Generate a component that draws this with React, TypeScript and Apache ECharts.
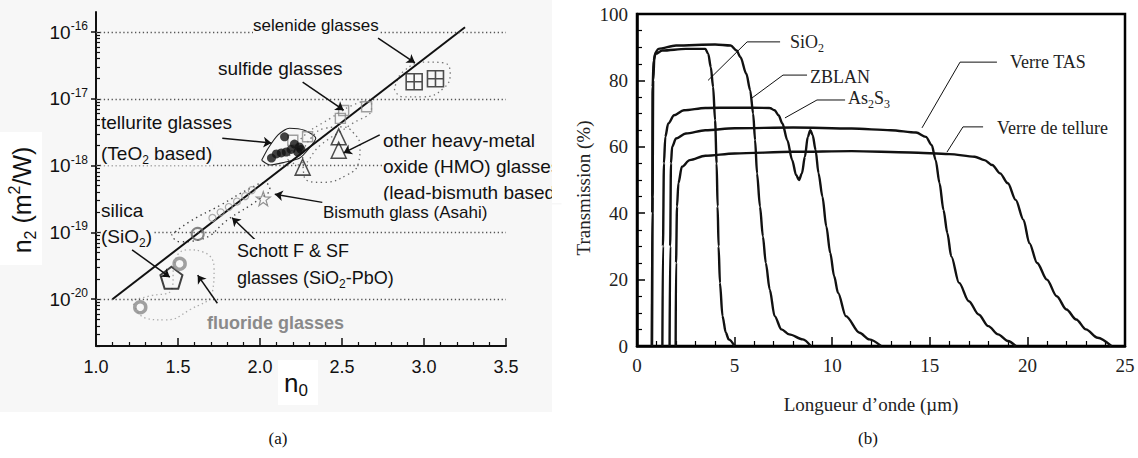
import React, { useEffect, useRef } from 'react';
import * as echarts from 'echarts';

const SANS = '"Liberation Sans", Arial, Helvetica, sans-serif';
const SERIF = '"Liberation Serif", "Times New Roman", Times, serif';

// ================= Panel (a): n2 (m^2/W) vs n0 =================
const n2DecadeExp = [-20, -19, -18, -17, -16];

// [n0, n2]
const trendLine = [[1.1, 1.0e-20], [3.25, 1.18e-16]];
const selenide = [[2.94, 1.8e-17], [3.07, 2.0e-17]];
const sulfide = [[2.2, 2.4e-18], [2.29, 2.7e-18], [2.49, 5.1e-18], [2.51, 6.7e-18], [2.65, 7.6e-18]];
const tellurite = [
  [2.07, 1.3e-18], [2.1, 1.5e-18], [2.13, 1.55e-18], [2.15, 2.7e-18], [2.16, 1.6e-18],
  [2.19, 1.75e-18], [2.21, 2.1e-18], [2.23, 1.6e-18], [2.24, 1.9e-18], [2.25, 1.75e-18],
];
const hmo = [[2.48, 2.7e-18], [2.48, 1.7e-18], [2.26, 9.5e-19]];
const bismuthAsahi = [[2.02, 3.2e-19]];
const schottSmall = [[1.71, 1.65e-19], [1.76, 2.0e-19], [1.81, 2.4e-19], [1.86, 2.9e-19], [1.91, 3.5e-19], [1.95, 4.3e-19]];
const schottLarge = [[1.62, 9.5e-20]];
const silica = [[1.46, 2.1e-20]];
const fluoride = [[1.51, 3.4e-20], [1.27, 7.6e-21]];

// outlines, [n0, log10(n2)]
const selenideHull = [[2.82, -16.87], [2.87, -16.6], [3.02, -16.45], [3.12, -16.46], [3.16, -16.61], [3.12, -16.84], [2.99, -16.97], [2.87, -16.97], [2.82, -16.87]];
const telluriteHull = [[2.01, -17.92], [2.05, -17.74], [2.11, -17.54], [2.18, -17.44], [2.27, -17.47], [2.34, -17.59], [2.29, -17.77], [2.24, -17.89], [2.15, -17.95], [2.06, -17.99], [2.01, -17.92]];
const schottHull = [[1.46, -19.04], [1.57, -18.84], [1.76, -18.59], [1.94, -18.34], [2.03, -18.26], [2.06, -18.34], [1.99, -18.51], [1.82, -18.78], [1.63, -19.11], [1.51, -19.14], [1.46, -19.04]];
const sulfideHull = [[2.17, -17.92], [2.24, -17.62], [2.43, -17.29], [2.61, -17.05], [2.68, -17.02], [2.68, -17.14], [2.55, -17.39], [2.37, -17.69], [2.24, -17.99], [2.17, -17.92]];
const hmoHull = [[2.26, -17.8], [2.27, -18.17], [2.38, -18.25], [2.53, -18.14], [2.6, -17.96], [2.61, -17.72], [2.57, -17.51], [2.5, -17.42], [2.4, -17.44], [2.31, -17.59], [2.26, -17.8]];
const fluorideHull = [[1.22, -20.01], [1.3, -20.28], [1.42, -20.31], [1.57, -20.16], [1.71, -19.89], [1.72, -19.53], [1.65, -19.29], [1.56, -19.26], [1.48, -19.44], [1.46, -19.86], [1.33, -19.95], [1.22, -20.01]];

// arrows [n0 start, log start, n0 end, log end]
const arrowsA = [
  [2.72, -16.09, 2.945, -16.46],
  [2.26, -16.75, 2.51, -17.17],
  [1.77, -17.59, 2.07, -17.66],
  [2.73, -17.54, 2.51, -17.81],
  [2.38, -18.55, 2.09, -18.43],
  [1.97, -19.11, 1.83, -18.78],
  [1.22, -19.26, 1.45, -19.67],
  [1.74, -20.06, 1.62, -19.64],
];

// ================= Panel (b): Transmission (%) vs wavelength (um) =================
const sio2 = [[0.76, 0], [0.78, 40], [0.8, 78], [0.85, 86], [0.95, 88], [1.3, 89], [2.5, 89.5], [3.5, 89.5], [3.65, 88], [3.78, 84], [3.9, 78], [4.0, 68], [4.08, 55], [4.13, 42], [4.18, 30], [4.25, 19], [4.38, 9], [4.55, 4], [4.7, 2], [5.0, 0]];
const zblan = [[0.77, 0], [0.8, 45], [0.83, 80], [0.9, 88], [1.1, 89.5], [2, 90.5], [4, 90.8], [4.8, 90.5], [5.1, 89], [5.3, 87], [5.6, 82], [5.8, 77], [5.95, 70], [6.05, 62], [6.15, 52], [6.3, 42], [6.45, 33], [6.6, 25], [6.8, 17], [7.05, 9], [7.4, 5], [7.8, 3.5], [8.5, 2], [8.9, 0]];
const as2s3 = [[1.3, 0], [1.33, 30], [1.38, 55], [1.45, 63], [1.6, 67], [1.9, 69.5], [2.4, 71], [3.5, 71.7], [5, 71.8], [6.8, 71.7], [7.05, 71], [7.25, 69.5], [7.45, 67], [7.7, 62], [7.95, 56], [8.15, 51.5], [8.3, 50], [8.45, 52], [8.6, 57], [8.75, 63], [8.88, 65], [9.0, 63.5], [9.15, 59], [9.3, 52], [9.5, 45], [9.7, 36], [9.9, 28], [10.1, 21], [10.3, 16], [10.7, 9], [11.4, 4], [11.9, 2], [12.5, 0]];
const verreTAS = [[1.67, 0], [1.7, 30], [1.74, 55], [1.8, 60], [2.0, 62.5], [2.5, 64], [3.5, 65], [5, 65.6], [8, 65.8], [11, 65.5], [13, 65], [14.3, 64.3], [14.8, 63], [15.1, 60.5], [15.3, 56], [15.5, 49], [15.7, 41], [15.9, 34], [16.1, 27], [16.5, 19], [17, 13.5], [17.5, 9.5], [18, 6], [18.5, 3.5], [19, 1.5], [19.4, 0]];
const verreTellure = [[1.98, 0], [2.0, 25], [2.05, 42], [2.12, 49], [2.3, 54], [2.7, 56], [3.5, 57.3], [5, 58], [8, 58.5], [11, 58.7], [14, 58.3], [16, 57.8], [17.3, 57], [17.8, 56], [18.2, 54.5], [18.6, 52], [19, 49], [19.4, 44], [19.8, 38], [20.1, 31], [20.5, 25], [21, 20], [21.5, 15], [22, 11], [22.5, 8], [23, 5], [23.6, 2.5], [24.3, 0]];

// leader lines [wavelength, transmission]
const leadersB = [
  [[3.64, 80], [5.64, 91.6], [7.33, 91.6]],
  [[5.89, 74.7], [7.48, 81.6], [8.71, 81.6]],
  [[7.58, 68.7], [9.22, 74.1], [10.66, 74.1]],
  [[14.6, 65.7], [16.55, 85.5], [18.44, 85.5]],
  [[15.88, 58.4], [16.7, 66], [17.73, 66]],
];

const toLog = (pts: number[][]) => pts.map((p) => [p[0], Math.log10(p[1])]);

const minorLog: number[] = [];
for (let d = -21; d <= -16; d++) {
  for (let k = 2; k <= 9; k++) {
    const v = d + Math.log10(k);
    if (v > -20.7 && v < -15.7) minorLog.push(v);
  }
}

const BG_A = '#f7f7f7';

function txt(x: number, y: number, text: string, o: any = {}) {
  const size = o.size ?? 17;
  const fam = o.family ?? SANS;
  const fill = o.color ?? '#111';
  const sub = o.sub ?? Math.round(size * 0.65);
  return {
    type: 'text',
    x,
    y,
    z: 50,
    silent: true,
    rotation: o.rotation ?? 0,
    style: {
      text,
      fontFamily: fam,
      fontSize: size,
      fontWeight: o.weight ?? 'normal',
      fill,
      align: o.align ?? 'left',
      verticalAlign: 'middle',
      lineHeight: o.lh ?? size + 6,
      backgroundColor: o.bg,
      rich: {
        sub: { fontSize: sub, lineHeight: sub, verticalAlign: 'bottom', fontFamily: fam, fill, fontWeight: o.weight ?? 'normal' },
        sup: { fontSize: sub, lineHeight: sub, verticalAlign: 'top', fontFamily: fam, fill, fontWeight: o.weight ?? 'normal' },
      },
    },
  };
}

function scatterA(data: number[][], symbol: string, size: any, itemStyle: any) {
  return { type: 'scatter', xAxisIndex: 0, yAxisIndex: 0, data: toLog(data), symbol, symbolSize: size, itemStyle, z: 5, silent: true };
}

function hullA(data: number[][], color: string, width: number, type: any, smooth: number) {
  return { type: 'line', xAxisIndex: 0, yAxisIndex: 0, data, symbol: 'none', smooth, lineStyle: { color, width, type }, z: 3, silent: true };
}

const PENTAGON = 'path://M11 0 L21.5 7.6 L17.5 20 L4.5 20 L0.5 7.6 Z';
const STAR = 'path://M7 0 L8.65 4.73 L13.66 4.84 L9.66 7.87 L11.11 12.66 L7 9.8 L2.89 12.66 L4.34 7.87 L0.34 4.84 L5.35 4.73 Z';
const BOXCROSS = 'path://M0 0 H16 V16 H0 Z M8 0 V16 M0 8 H16';

function buildOption() {
  const bLine = (data: number[][]) => ({
    type: 'line', xAxisIndex: 1, yAxisIndex: 2, data, symbol: 'none', smooth: 0.3, smoothMonotone: 'x',
    lineStyle: { color: '#111', width: 2.4 }, z: 4, silent: true,
  });
  return {
    animation: false,
    backgroundColor: '#ffffff',
    grid: [
      { left: 96, top: 12, width: 410, height: 334 },
      { left: 637, top: 14, width: 488, height: 332, show: true, borderColor: '#000', borderWidth: 2.5, backgroundColor: 'transparent' },
    ],
    xAxis: [
      {
        gridIndex: 0, type: 'value', min: 1, max: 3.5, interval: 0.5,
        axisLine: { lineStyle: { color: '#111', width: 2 } },
        axisTick: { inside: true, length: 8, lineStyle: { color: '#111', width: 1.5 } },
        minorTick: { show: true, splitNumber: 5, length: 4, lineStyle: { color: '#111', width: 1.2 } },
        axisLabel: { formatter: (v: number) => v.toFixed(1), fontFamily: SANS, fontSize: 18, color: '#111', margin: 12 },
        splitLine: { show: false },
      },
      {
        gridIndex: 1, type: 'value', min: 0, max: 25, interval: 5,
        axisLine: { lineStyle: { color: '#000', width: 2.5 } },
        axisTick: { inside: true, length: 9, lineStyle: { color: '#000', width: 1.5 } },
        minorTick: { show: true, splitNumber: 5, length: 5, lineStyle: { color: '#000', width: 1.2 } },
        axisLabel: { fontFamily: SERIF, fontSize: 19, color: '#222', margin: 10 },
        splitLine: { show: false },
      },
    ],
    yAxis: [
      {
        gridIndex: 0, type: 'value', min: -20.7, max: -15.7, position: 'left',
        axisLine: { show: true, lineStyle: { color: '#111', width: 2 } },
        axisTick: { show: true, inside: false, length: 5, customValues: n2DecadeExp, lineStyle: { color: '#111', width: 1.5 } },
        axisLabel: {
          customValues: n2DecadeExp,
          formatter: (v: number) => `10{sup|${Math.round(v)}}`,
          fontFamily: SANS, fontSize: 19, color: '#111', margin: 8, lineHeight: 24,
          rich: { sup: { fontFamily: SANS, fontSize: 12, lineHeight: 12, verticalAlign: 'top', color: '#111' } },
        },
        splitLine: { show: false },
      },
      {
        gridIndex: 0, type: 'value', min: -20.7, max: -15.7, position: 'left', offset: 0,
        axisLine: { show: false },
        axisTick: { show: true, inside: true, length: 4, customValues: [...n2DecadeExp, ...minorLog], lineStyle: { color: '#111', width: 1.2 } },
        axisLabel: { show: false },
        splitLine: { show: false },
      },
      {
        gridIndex: 1, type: 'value', min: 0, max: 100, interval: 20,
        axisLine: { lineStyle: { color: '#000', width: 2.5 } },
        axisTick: { inside: true, length: 8, lineStyle: { color: '#000', width: 1.5 } },
        minorTick: { show: true, splitNumber: 4, length: 5, lineStyle: { color: '#000', width: 1.2 } },
        axisLabel: { fontFamily: SERIF, fontSize: 19, color: '#222', margin: 9 },
        splitLine: { show: false },
      },
    ],
    series: [
      {
        type: 'line', xAxisIndex: 0, yAxisIndex: 0, data: toLog(trendLine), symbol: 'none',
        lineStyle: { color: '#111', width: 2 }, z: 4, silent: true,
        markLine: {
          silent: true, symbol: ['none', 'none'], label: { show: false },
          lineStyle: { type: [1.3, 2.6], color: '#555', width: 1.3 },
          data: n2DecadeExp.map((e) => ({ yAxis: e })),
        },
      },
      hullA(selenideHull, '#777', 1.3, [1.4, 3.4], 0.5),
      hullA(schottHull, '#444', 1.4, [1.4, 3.6], 0.5),
      hullA(sulfideHull, '#777', 1.3, [1.4, 3.6], 0.5),
      hullA(hmoHull, '#666', 1.3, [1.4, 3.4], 0.5),
      hullA(fluorideHull, '#aaa', 1.3, [1.4, 3.0], 0.5),
      hullA(telluriteHull, '#222', 1.1, 'solid', 0.25),
      scatterA(selenide, BOXCROSS, 16, { color: 'transparent', borderColor: '#222', borderWidth: 1.6 }),
      scatterA(sulfide, 'rect', 10, { color: 'transparent', borderColor: '#888', borderWidth: 1.4 }),
      scatterA(hmo, 'triangle', [15, 16], { color: 'transparent', borderColor: '#222', borderWidth: 1.5 }),
      scatterA(bismuthAsahi, STAR, 14, { color: 'transparent', borderColor: '#777', borderWidth: 1.2 }),
      scatterA(schottSmall, 'circle', 7, { color: 'transparent', borderColor: '#999', borderWidth: 1.2 }),
      scatterA(schottLarge, 'circle', 12, { color: 'transparent', borderColor: '#666', borderWidth: 2 }),
      scatterA(silica, PENTAGON, 22, { color: 'transparent', borderColor: '#111', borderWidth: 2 }),
      scatterA(fluoride, 'circle', 11, { color: 'transparent', borderColor: '#8a8a8a', borderWidth: 3.5 }),
      scatterA(tellurite, 'circle', 9, { color: '#111', borderColor: '#111', borderWidth: 0 }),
      {
        type: 'lines', coordinateSystem: 'cartesian2d', xAxisIndex: 0, yAxisIndex: 0, silent: true, z: 6,
        symbol: ['none', 'arrow'], symbolSize: 8,
        lineStyle: { color: '#111', width: 1.5, opacity: 1, curveness: 0 },
        data: arrowsA.map((a) => ({ coords: [[a[0], a[1]], [a[2], a[3]]] })),
      },
      // panel (b)
      bLine(sio2),
      bLine(zblan),
      bLine(as2s3),
      bLine(verreTAS),
      bLine(verreTellure),
      {
        type: 'lines', coordinateSystem: 'cartesian2d', xAxisIndex: 1, yAxisIndex: 2, polyline: true, silent: true, z: 6,
        lineStyle: { color: '#111', width: 1, opacity: 1 },
        data: leadersB.map((c) => ({ coords: c })),
      },
    ],
    graphic: [
      { type: 'rect', z: -5, silent: true, shape: { x: 0, y: 0, width: 552, height: 412 }, style: { fill: BG_A } },
      { type: 'rect', z: -4, silent: true, shape: { x: 0, y: 132, width: 42, height: 133 }, style: { fill: '#fff' } },
      { type: 'rect', z: -4, silent: true, shape: { x: 278, y: 360, width: 40, height: 45 }, style: { fill: '#fff' } },
      // panel (a) annotations
      txt(253, 25, 'selenide glasses', { bg: BG_A, size: 17 }),
      txt(218, 68, 'sulfide glasses', { bg: BG_A, size: 19 }),
      txt(101, 122, 'tellurite glasses', { bg: BG_A, size: 19 }),
      txt(101, 153, '(TeO{sub|2} based)', { bg: BG_A, size: 19 }),
      txt(101, 210, 'silica', { bg: BG_A, size: 19 }),
      txt(101, 236, '(SiO{sub|2})', { bg: BG_A, size: 19 }),
      txt(383, 140, 'other heavy-metal', { bg: BG_A, size: 19 }),
      txt(383, 166, 'oxide (HMO) glasses', { bg: BG_A, size: 19 }),
      txt(383, 192, '(lead-bismuth based)', { bg: BG_A, size: 19 }),
      txt(323, 212, 'Bismuth glass (Asahi)', { bg: BG_A, size: 17 }),
      txt(237, 251, 'Schott F & SF', { bg: BG_A, size: 18 }),
      txt(237, 278, 'glasses (SiO{sub|2}-PbO)', { bg: BG_A, size: 18 }),
      txt(207, 323, 'fluoride glasses', { bg: BG_A, weight: 'bold', color: '#8a8a8a', size: 18 }),
      { type: 'rect', z: 60, silent: true, shape: { x: 552, y: 128, width: 16, height: 75 }, style: { fill: '#fff' } },
      txt(22, 200, 'n{sub|2} (m{sup|2}/W)', { size: 25, rotation: Math.PI / 2, align: 'center', sub: 16, lh: 32 }),
      txt(296, 383, 'n{sub|0}', { size: 26, align: 'center', sub: 17, lh: 32 }),
      // panel (b) annotations
      txt(790, 42, 'SiO{sub|2}', { family: SERIF, size: 18, color: '#222' }),
      txt(810, 77, 'ZBLAN', { family: SERIF, size: 18, color: '#222' }),
      txt(848, 98, 'As{sub|2}S{sub|3}', { family: SERIF, size: 18, color: '#222' }),
      txt(1010, 62, 'Verre TAS', { family: SERIF, size: 18, color: '#222' }),
      txt(997, 128, 'Verre de tellure', { family: SERIF, size: 18, color: '#222' }),
      txt(583, 188, 'Transmission (%)', { family: SERIF, size: 19, color: '#222', rotation: Math.PI / 2, align: 'center' }),
      txt(871, 404, 'Longueur d\u2019onde (\u00b5m)', { family: SERIF, size: 19, color: '#222', align: 'center' }),
      txt(278, 438, '(a)', { family: SERIF, size: 17, color: '#111', align: 'center' }),
      txt(868, 438, '(b)', { family: SERIF, size: 17, color: '#111', align: 'center' }),
    ],
  };
}

export default function App() {
  const ref = useRef<HTMLDivElement>(null);
  useEffect(() => {
    if (!ref.current) return;
    const chart = echarts.init(ref.current, null, { renderer: 'svg' });
    chart.setOption(buildOption() as any);
    return () => chart.dispose();
  }, []);
  return <div ref={ref} style={{ position: 'fixed', left: 0, top: 0, width: 1138, height: 458, background: '#fff' }} />;
}
